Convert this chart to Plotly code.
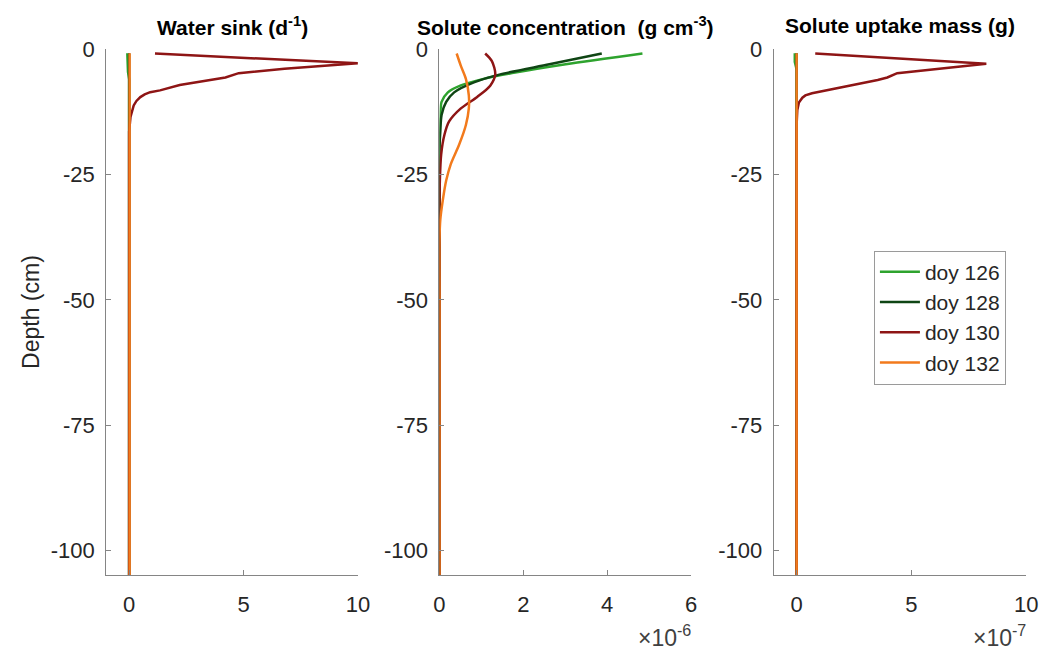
import plotly.graph_objects as go

# ---------------- data ----------------
days = ["doy 126", "doy 128", "doy 130", "doy 132"]
colors = ["#2ea32e", "#0f4514", "#8e1515", "#f27a1c"]

# Water sink (d^-1) vs depth (cm)
ws_depth_126 = [-0.8, -2.5, -4.5, -6, -105]
ws_126 = [-0.08, -0.08, -0.05, 0.0, 0.0]
ws_depth_128 = [-0.8, -105]
ws_128 = [0.0, 0.0]
ws_depth_130 = [-0.84, -2.8, -3.86, -4.76, -5.62, -7.11, -8.2, -8.56, -9.0, -9.54,
                -10.3, -11.2, -13.5, -16.4, -105]
ws_130 = [1.13, 10.0, 6.79, 4.79, 4.21, 2.21, 1.35, 0.92, 0.68, 0.49,
          0.32, 0.2, 0.06, 0.0, 0.0]
ws_depth_132 = [-0.8, -105]
ws_132 = [0.02, 0.02]

# Solute concentration (g cm^-3) vs depth (cm)
conc_depth_126 = [-0.84, -3.0, -4.6, -5.9, -7.2, -8.6, -10.5, -13.7, -17, -30, -105]
conc_126 = [4.84e-6, 3.01e-6, 1.84e-6, 1.05e-6, 0.51e-6, 0.2e-6, 0.05e-6, 0.02e-6, 0.0, 0.0, 0.0]
conc_depth_128 = [-0.84, -3.0, -5.0, -6.6, -8.6, -10.5, -13.1, -16.4, -20, -30, -105]
conc_128 = [3.87e-6, 2.62e-6, 1.45e-6, 0.82e-6, 0.35e-6, 0.16e-6, 0.05e-6, 0.02e-6, 0.0, 0.0, 0.0]
conc_depth_130 = [-0.84, -2.35, -5.0, -7.25, -9.5, -11.8, -14.4, -17, -21, -26, -31, -40, -105]
conc_130 = [1.09e-6, 1.25e-6, 1.33e-6, 1.21e-6, 0.9e-6, 0.51e-6, 0.23e-6, 0.12e-6,
            0.04e-6, 0.01e-6, 0.0, 0.0, 0.0]
conc_depth_132 = [-0.84, -3.3, -5.9, -9.2, -11.8, -15.1, -19, -22.9, -26.2, -30.1, -34, -38, -50, -105]
conc_132 = [0.41e-6, 0.51e-6, 0.63e-6, 0.70e-6, 0.70e-6, 0.63e-6, 0.47e-6, 0.27e-6,
            0.16e-6, 0.08e-6, 0.02e-6, 0.0, 0.0, 0.0]

# Solute uptake mass (g) vs depth (cm)
up_depth_126 = [-0.8, -2.5, -4.0, -105]
up_126 = [-0.08e-7, -0.08e-7, 0.0, 0.0]
up_depth_128 = [-0.8, -105]
up_128 = [0.0, 0.0]
up_depth_130 = [-0.84, -2.88, -4.76, -5.62, -6.13, -7.44, -8.76, -9.2, -9.66, -10.6, -12.1, -15, -105]
up_130 = [0.81e-7, 8.26e-7, 4.38e-7, 3.95e-7, 3.53e-7, 2.1e-7, 0.67e-7, 0.38e-7, 0.25e-7,
          0.1e-7, 0.03e-7, 0.0, 0.0]
up_depth_132 = [-0.8, -105]
up_132 = [0.0, 0.0]

ws_sets = [(ws_126, ws_depth_126), (ws_128, ws_depth_128), (ws_130, ws_depth_130), (ws_132, ws_depth_132)]
conc_sets = [(conc_126, conc_depth_126), (conc_128, conc_depth_128), (conc_130, conc_depth_130), (conc_132, conc_depth_132)]
up_sets = [(up_126, up_depth_126), (up_128, up_depth_128), (up_130, up_depth_130), (up_132, up_depth_132)]

panel_titles = ["<b>Water sink (d<sup>-1</sup>)</b>",
                "<b>Solute concentration \u00a0(g cm<sup>-3</sup>)</b>",
                "<b>Solute uptake mass (g)</b>"]
y_ticks = [0, -25, -50, -75, -100]
x1_ticks, x1_text = [0, 5, 10], ["0", "5", "10"]
x2_ticks, x2_text = [0, 2e-6, 4e-6, 6e-6], ["0", "2", "4", "6"]
x3_ticks, x3_text = [0, 5e-7, 10e-7], ["0", "5", "10"]

# ---------------- figure ----------------
W, H = 1054, 653
def fx(p):
    return p / W
def fy(p):
    return 1 - p / H

FONT = "Liberation Sans, Arial, Helvetica, sans-serif"
AX = "#858585"
TXT = "#262626"

fig = go.Figure()
for k, (sets, xa, ya, shape) in enumerate([(ws_sets, "x", "y", "linear"),
                                           (conc_sets, "x2", "y2", "spline"),
                                           (up_sets, "x3", "y3", "linear")]):
    for i, (vals, dep) in enumerate(sets):
        fig.add_trace(go.Scatter(
            x=vals, y=dep, mode="lines", name=days[i],
            line=dict(color=colors[i], width=2.5, shape=shape, smoothing=0.8),
            xaxis=xa, yaxis=ya, showlegend=(k == 0), legendgroup=days[i]))

axis_common = dict(showline=True, linecolor=AX, linewidth=1, ticks="inside", ticklen=5,
                   tickcolor=AX, tickwidth=1, showgrid=False, zeroline=False,
                   tickfont=dict(family=FONT, size=22, color=TXT))

x_domains = [(102, 358), (441, 697), (781, 1038)]
x_ranges = [[-1, 10], [0, 6e-6], [-1e-7, 10e-7]]
x_tick_sets = [(x1_ticks, x1_text), (x2_ticks, x2_text), (x3_ticks, x3_text)]
y_dom = [fy(574), fy(38)]

layout = dict(width=W, height=H, autosize=False,
              margin=dict(l=0, r=0, t=0, b=0),
              plot_bgcolor="white", paper_bgcolor="white",
              font=dict(family=FONT, color=TXT),
              showlegend=True,
              legend=dict(x=fx(883), y=fy(243), xanchor="left", yanchor="top",
                          bgcolor="white", bordercolor="#9a9a9a", borderwidth=1,
                          font=dict(family=FONT, size=21, color=TXT),
                          itemwidth=40, tracegroupgap=0))
for k in range(3):
    sfx = "" if k == 0 else str(k + 1)
    tv, tt = x_tick_sets[k]
    layout["xaxis" + sfx] = dict(axis_common, domain=[fx(x_domains[k][0]), fx(x_domains[k][1])],
                                 range=x_ranges[k], tickvals=tv, ticktext=tt,
                                 anchor="y" + sfx, ticklabelstandoff=9)
    layout["yaxis" + sfx] = dict(axis_common, domain=y_dom, range=[-105, 0],
                                 tickvals=y_ticks, ticktext=[str(v) for v in y_ticks],
                                 anchor="x" + sfx, ticklabelstandoff=6)
fig.update_layout(**layout)

ann = []
for k in range(3):
    cx = (x_domains[k][0] + x_domains[k][1]) / 2
    ann.append(dict(text=panel_titles[k], x=fx(cx), y=fy(14), xref="paper", yref="paper",
                    xanchor="center", yanchor="middle", showarrow=False,
                    font=dict(family=FONT, size=21, color="#000000")))
ann.append(dict(text="Depth (cm)", x=fx(26), y=fy(306), xref="paper", yref="paper",
                xanchor="center", yanchor="middle", textangle=-90, showarrow=False,
                font=dict(family=FONT, size=23, color=TXT)))
ann.append(dict(text="\u00d710<sup>-6</sup>", x=fx(699), y=fy(636), xref="paper", yref="paper",
                xanchor="right", yanchor="middle", showarrow=False,
                font=dict(family=FONT, size=23, color="#404040")))
ann.append(dict(text="\u00d710<sup>-7</sup>", x=fx(1040), y=fy(636), xref="paper", yref="paper",
                xanchor="right", yanchor="middle", showarrow=False,
                font=dict(family=FONT, size=23, color="#404040")))
fig.update_layout(annotations=ann)

fig.write_html("out.html", config={"displayModeBar": False},
               post_script="document.body.style.margin='0px';document.body.style.overflow='hidden';")
